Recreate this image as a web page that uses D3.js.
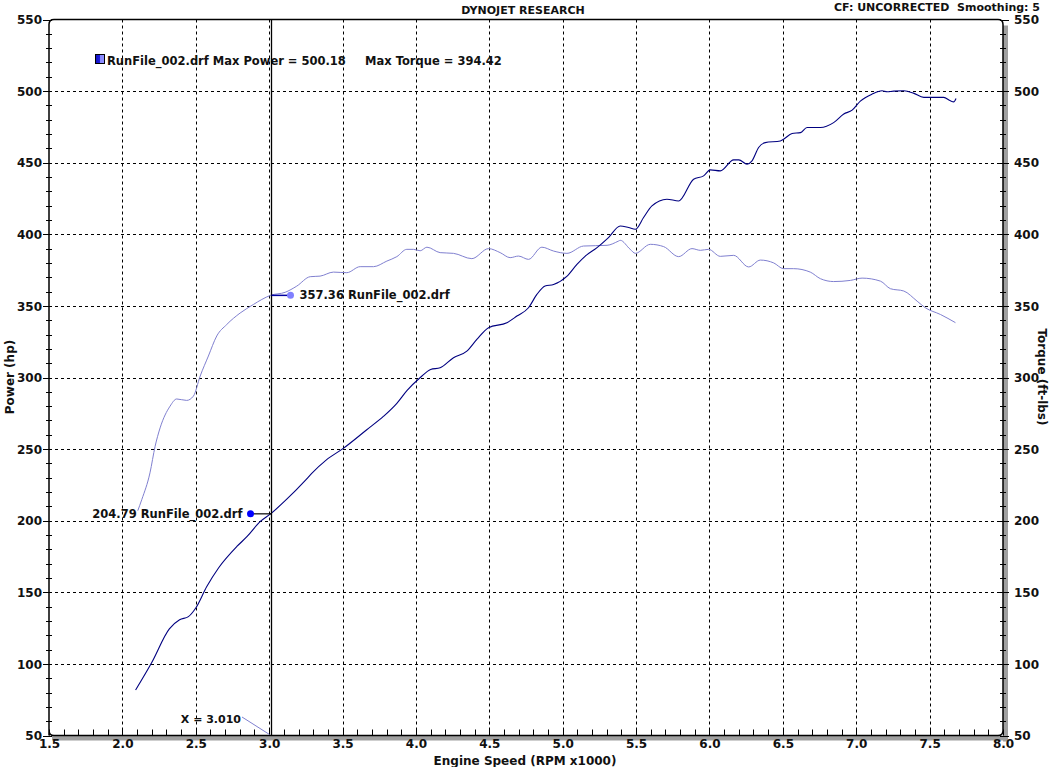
<!DOCTYPE html>
<html><head><meta charset="utf-8">
<script src="https://cdn.jsdelivr.net/npm/d3@7"></script>
<style>
body{margin:0;background:#fff;}
text{font-family:"DejaVu Sans",Verdana,sans-serif;font-weight:bold;fill:#111;white-space:pre;}
</style></head>
<body><svg id="c" width="1051" height="767"></svg>
<script>
const xTicks = [1.5,2.0,2.5,3.0,3.5,4.0,4.5,5.0,5.5,6.0,6.5,7.0,7.5,8.0];
const yTicks = [50,100,150,200,250,300,350,400,450,500,550];

const powerRpm = [2.09,2.20,2.32,2.39,2.45,2.50,2.575,2.655,2.78,2.85,2.94,3.01,3.12,3.245,3.29,3.39,3.505,3.665,3.78,3.87,3.94,4.03,4.10,4.165,4.256,4.347,4.415,4.495,4.62,4.688,4.767,4.824,4.88,4.938,5.03,5.097,5.154,5.234,5.312,5.392,5.449,5.495,5.551,5.608,5.71,5.79,5.892,5.96,6.006,6.074,6.165,6.2,6.256,6.29,6.335,6.38,6.483,6.505,6.563,6.62,6.665,6.756,6.846,6.915,6.972,7.028,7.108,7.176,7.21,7.255,7.324,7.39,7.46,7.596,7.642,7.664,7.68];
const powerHp = [81.8,101,124.5,130.8,133,139,154,167,182,189,199.5,204.8,215,228,233,242.5,250.5,263.5,273,282,291,300,305.6,306.8,313.8,318.4,326.6,334.8,338.3,342.9,348.7,358,363.9,365,370.8,379,384.8,390.7,397.7,405.8,404.7,403.5,411.7,419.8,424.5,423.3,438.5,440.8,445,444.3,452,452,449,451.3,460.6,464,465.2,466.4,470.4,471,474.6,474.6,478,484,486.7,493,497.9,500.2,499.5,500,500.2,498.6,495.6,495.6,493.2,492.5,494.9];

const torqueRpm = [2.105,2.132,2.188,2.223,2.257,2.325,2.37,2.438,2.484,2.53,2.586,2.643,2.711,2.802,2.893,2.95,3.01,3.109,3.188,3.28,3.347,3.438,3.529,3.62,3.711,3.802,3.87,3.938,3.983,4.029,4.075,4.165,4.256,4.381,4.495,4.574,4.642,4.699,4.767,4.858,4.938,5.029,5.142,5.302,5.381,5.392,5.46,5.495,5.597,5.688,5.79,5.881,5.938,5.994,6.074,6.165,6.267,6.347,6.438,6.505,6.574,6.687,6.756,6.846,6.96,7.04,7.165,7.233,7.324,7.415,7.471,7.574,7.676];
const torqueFtlb = [207,214.7,233.4,252,264.8,280,285,284,287,301,315,329,337,345,351,354.5,357.4,359.5,363.8,370.4,370.8,373.6,373.2,377.4,377.4,381.3,384.4,389.5,389.5,388.5,391,387.2,386.7,383,390,387.2,383.7,384.8,382.5,391,388.3,386.7,391.8,392.3,395.3,395.8,389.5,386.7,393,391.4,384.4,390,388.8,389.5,384.6,385.3,377.2,382,380,376,376,373.6,369,367,367.8,369.4,367.3,362,360.4,353.3,348.7,344,338.3];

const cursorX = 3.010, cursorPower = 204.79, cursorTorque = 357.36;
const maxPower = 500.18, maxTorque = 394.42;

const svg = d3.select("#c");
const L=49, R=1003, T=19.5, B=735.5;
const x = d3.scaleLinear().domain([1.5,8.0]).range([L,R]);
const y = d3.scaleLinear().domain([50,550]).range([B,T]);

// shadow
svg.append("rect").attr("x",L+3).attr("y",B).attr("width",R-L).attr("height",5).attr("fill","#a0a0a0");
svg.append("rect").attr("x",R).attr("y",T+6).attr("width",5).attr("height",B-T).attr("fill","#a0a0a0");

// frame
svg.append("path").attr("fill","none").attr("stroke","#000").attr("stroke-width",1.5)
  .attr("d",`M${L},${B} L${L},${T+5} Q${L},${T} ${L+5},${T} L${R-5},${T} Q${R},${T} ${R},${T+5} L${R},${B-5} Q${R},${B} ${R-5},${B} L${L+5},${B} Q${L},${B} ${L},${B-5}`);

// grid
const g = svg.append("g").attr("stroke","#000").attr("stroke-width",1).attr("stroke-dasharray","3,3");
xTicks.slice(1,-1).forEach(v=>g.append("line").attr("x1",Math.round(x(v))+0.5).attr("x2",Math.round(x(v))+0.5).attr("y1",T).attr("y2",B));
yTicks.slice(1,-1).forEach(v=>g.append("line").attr("x1",L).attr("x2",R).attr("y1",Math.round(y(v))+0.5).attr("y2",Math.round(y(v))+0.5));

// ticks
const tickG = svg.append("g").attr("stroke","#000");
d3.range(50,551,10).forEach(v=>{
  const major = v%50===0;
  const yy = Math.round(y(v))+0.5;
  tickG.append("line").attr("x1",major?L-6:L-3).attr("x2",L+3).attr("y1",yy).attr("y2",yy);
  tickG.append("line").attr("x1",R-3).attr("x2",major?R+6:R+3).attr("y1",yy).attr("y2",yy);
});
d3.range(15,81,1).forEach(k=>{
  const v=k/10; const xx=Math.round(x(v))+0.5;
  tickG.append("line").attr("x1",xx).attr("x2",xx).attr("y1",B-6).attr("y2",B);
});
svg.append("g").attr("transform",`translate(${L},0)`).call(d3.axisLeft(y).tickValues(yTicks).tickSize(0).tickPadding(7).tickFormat(d3.format("d")))
  .call(s=>{s.select(".domain").remove(); s.selectAll("text").attr("font-size",12).attr("dy","0.35em").attr("fill","#111");});
svg.append("g").attr("transform",`translate(${R},0)`).call(d3.axisRight(y).tickValues(yTicks).tickSize(0).tickPadding(11).tickFormat(d3.format("d")))
  .call(s=>{s.select(".domain").remove(); s.selectAll("text").attr("font-size",12).attr("dy","0.35em").attr("fill","#111");});
svg.append("g").attr("transform",`translate(0,${B})`).call(d3.axisBottom(x).tickValues(xTicks).tickSize(0).tickPadding(4).tickFormat(d3.format(".1f")))
  .call(s=>{s.select(".domain").remove(); s.selectAll("text").attr("font-size",12).attr("fill","#111");});

// titles
svg.append("text").attr("x",523).attr("y",14).attr("text-anchor","middle").attr("font-size",11).text("DYNOJET RESEARCH");
svg.append("text").attr("x",1040).attr("y",11).attr("text-anchor","end").attr("font-size",11).text("CF: UNCORRECTED  Smoothing: 5");
svg.append("text").attr("x",525).attr("y",765).attr("text-anchor","middle").attr("font-size",12).text("Engine Speed (RPM x1000)");
svg.append("text").attr("transform","translate(14,377) rotate(-90)").attr("text-anchor","middle").attr("font-size",12).text("Power (hp)");
svg.append("text").attr("transform","translate(1038,377) rotate(90)").attr("text-anchor","middle").attr("font-size",12).text("Torque (ft-lbs)");

// legend
const defs = svg.append("defs");
const lg = defs.append("linearGradient").attr("id","lg");
lg.append("stop").attr("offset","0%").attr("stop-color","#1010c0");
lg.append("stop").attr("offset","50%").attr("stop-color","#2020e0");
lg.append("stop").attr("offset","55%").attr("stop-color","#8888ff");
lg.append("stop").attr("offset","100%").attr("stop-color","#9090ff");
svg.append("rect").attr("x",95.5).attr("y",54.5).attr("width",9).attr("height",9).attr("fill","url(#lg)").attr("stroke","#000").attr("stroke-width",1);
svg.append("text").attr("x",107).attr("y",65).attr("font-size",11.5).text(`RunFile_002.drf Max Power = ${maxPower.toFixed(2)}`);
svg.append("text").attr("x",365).attr("y",65).attr("font-size",11.5).text(`Max Torque = ${maxTorque.toFixed(2)}`);

// curves
const line = d3.line().x(d=>x(d[0])).y(d=>y(d[1])).curve(d3.curveMonotoneX);
svg.append("path").datum(d3.zip(torqueRpm,torqueFtlb)).attr("d",line).attr("fill","none").attr("stroke","#8080d0").attr("stroke-width",1);
svg.append("path").datum(d3.zip(powerRpm,powerHp)).attr("d",line).attr("fill","none").attr("stroke","#000080").attr("stroke-width",1.1);

// cursor
const cx = Math.round(x(cursorX))+0.5;
svg.append("line").attr("x1",cx).attr("x2",cx).attr("y1",T).attr("y2",B).attr("stroke","#000").attr("stroke-width",1.3);
// torque marker
const ty = y(cursorTorque);
svg.append("line").attr("x1",cx).attr("x2",cx+19).attr("y1",ty).attr("y2",ty).attr("stroke","#0000a0").attr("stroke-width",1.5);
svg.append("circle").attr("cx",cx+19).attr("cy",ty).attr("r",3.5).attr("fill","#8080ff");
svg.append("text").attr("x",cx+28).attr("y",ty+4).attr("font-size",11.5).text(`${cursorTorque.toFixed(2)} RunFile_002.drf`);
// power marker
const py = y(cursorPower);
svg.append("line").attr("x1",cx-21).attr("x2",cx).attr("y1",py).attr("y2",py).attr("stroke","#000").attr("stroke-width",1.2);
svg.append("circle").attr("cx",cx-21).attr("cy",py).attr("r",3.5).attr("fill","#0000ff");
svg.append("text").attr("x",cx-29).attr("y",py+4).attr("text-anchor","end").attr("font-size",11.5).text(`${cursorPower.toFixed(2)} RunFile_002.drf`);
// x label
svg.append("line").attr("x1",242).attr("y1",717).attr("x2",cx-2).attr("y2",B-1).attr("stroke","#8080d0").attr("stroke-width",1);
svg.append("text").attr("x",241).attr("y",723).attr("text-anchor","end").attr("font-size",11).text(`X = ${cursorX.toFixed(3)}`);
</script></body></html>
